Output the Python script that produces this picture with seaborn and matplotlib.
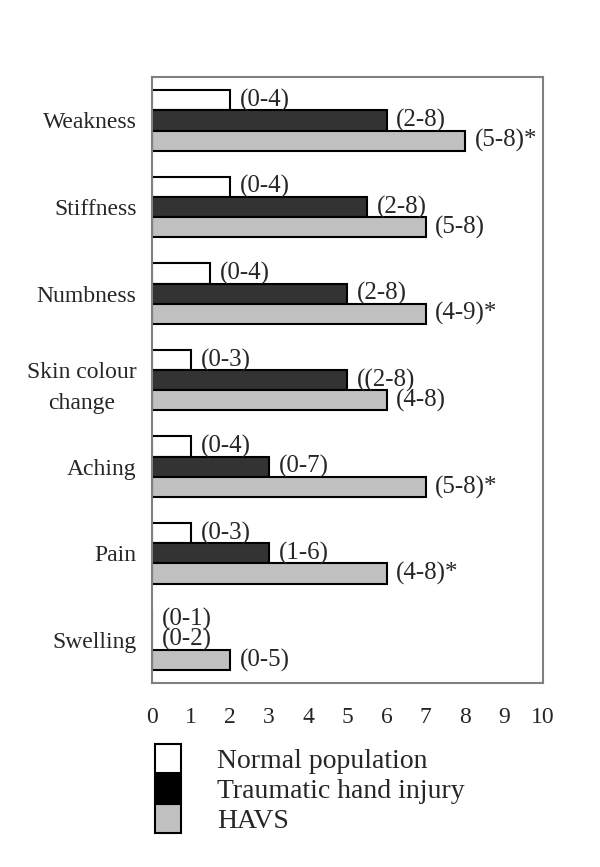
import pandas as pd
import matplotlib.pyplot as plt
import seaborn as sns
from matplotlib.patches import Patch

# Data
symptoms = ["Weakness", "Stiffness", "Numbness", "Skin colour\nchange", "Aching", "Pain", "Swelling"]
groups = ["Normal population", "Traumatic hand injury", "HAVS"]

normal = [2, 2, 1.5, 1, 1, 1, 0]
trauma = [6, 5.5, 5, 5, 3, 3, 0]
havs = [8, 7, 7, 6, 7, 6, 2]

normal_rng = ["(0-4)", "(0-4)", "(0-4)", "(0-3)", "(0-4)", "(0-3)", "(0-1)"]
trauma_rng = ["(2-8)", "(2-8)", "(2-8)", "((2-8)", "(0-7)", "(1-6)", "(0-2)"]
havs_rng = ["(5-8)*", "(5-8)", "(4-9)*", "(4-8)", "(5-8)*", "(4-8)*", "(0-5)"]

df = pd.DataFrame({
    "symptom": symptoms * 3,
    "group": [groups[0]] * 7 + [groups[1]] * 7 + [groups[2]] * 7,
    "score": normal + trauma + havs,
})

sns.set_style("white")
plt.rcParams["font.family"] = ["Liberation Serif", "DejaVu Serif"]

fig = plt.figure(figsize=(6, 8.67), dpi=100)
ax = fig.add_axes([0.253, 0.212, 0.652, 0.699])

colors = ["#ffffff", "#333333", "#c0c0c0"]
sns.barplot(data=df, x="score", y="symptom", hue="group", order=symptoms,
            hue_order=groups, palette=colors, orient="h", width=0.7,
            edgecolor="black", linewidth=1.5, legend=False, ax=ax)

for cont, labs in zip(ax.containers, [normal_rng, trauma_rng, havs_rng]):
    ax.bar_label(cont, labels=labs, padding=7, fontsize=18)

ax.set_xlim(0, 10)
ax.set_xticks(range(0, 11))
ax.set_xticklabels([str(i) for i in range(11)], fontsize=17)
ax.set_ylim(6.5, -0.5)
ax.set_yticks(range(7))
ax.set_yticklabels(symptoms, fontsize=17, multialignment="center", linespacing=1.65)
ax.set_yticks([i + 0.5 for i in range(-1, 7)], minor=True)
ax.tick_params(axis="y", which="major", length=0, pad=11)
ax.tick_params(axis="y", which="minor", length=5, color="#808080", width=1)
ax.tick_params(axis="x", which="major", length=5, color="#808080", width=1, pad=12)
ax.set_xlabel("")
ax.set_ylabel("")
for s in ax.spines.values():
    s.set_color("#808080")
    s.set_linewidth(1.5)

handles = [Patch(facecolor=c, edgecolor="black", linewidth=1.5)
           for c in ["#ffffff", "#000000", "#c0c0c0"]]
fig.legend(handles, groups, loc="upper left", bbox_to_anchor=(0.235, 0.158),
           frameon=False, fontsize=20, handlelength=0.95, handleheight=1.25,
           labelspacing=0, handletextpad=1.3, borderpad=0)

fig.savefig("out.png", dpi=100)
